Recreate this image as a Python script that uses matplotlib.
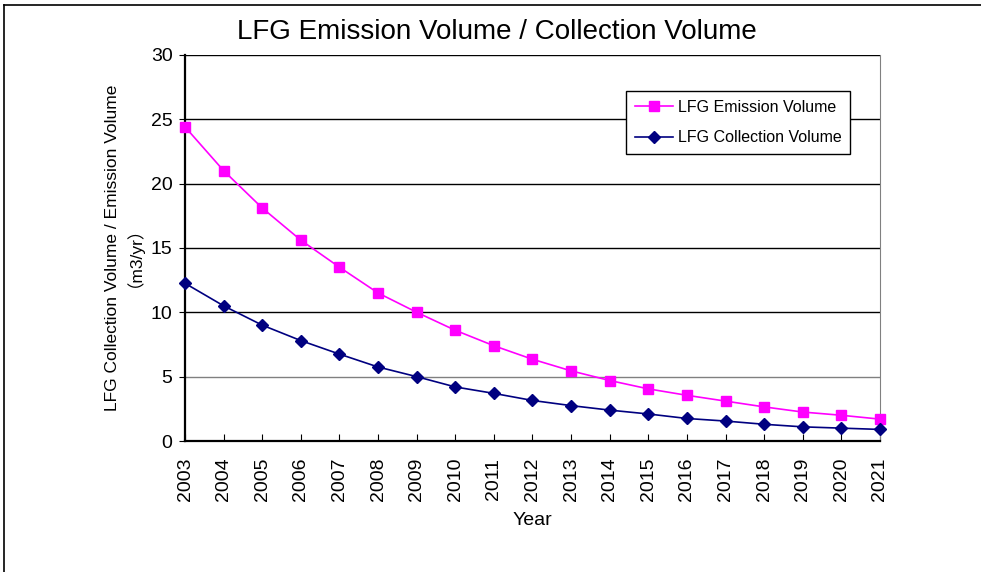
import numpy as np
import matplotlib.pyplot as plt
from matplotlib.lines import Line2D

plt.rcParams['font.family'] = ['Liberation Sans', 'Noto Sans CJK JP', 'DejaVu Sans']

years = [str(y) for y in range(2003, 2022)]
emission = [24.4, 21.0, 18.1, 15.6, 13.5, 11.5, 10.0, 8.6, 7.4, 6.35,
            5.45, 4.7, 4.05, 3.55, 3.1, 2.65, 2.25, 2.0, 1.7]
collection = [12.25, 10.5, 9.0, 7.8, 6.75, 5.75, 5.0, 4.2, 3.7, 3.15,
              2.75, 2.4, 2.1, 1.75, 1.55, 1.3, 1.1, 1.0, 0.9]

fig = plt.figure(figsize=(9.81, 5.72), dpi=100)
ax = fig.add_axes([0.1886, 0.229, 0.7084, 0.6752])

x = np.arange(len(years))
ax.plot(x, emission, color='#FF00FF', marker='s', markersize=6.5, lw=1.2,
        label='LFG Emission Volume', clip_on=False, zorder=3)
ax.plot(x, collection, color='#000080', marker='D', markersize=6, lw=1.2,
        label='LFG Collection Volume', clip_on=False, zorder=3)

ax.set_xlim(0, len(years) - 1)
ax.set_ylim(0, 30)
ax.set_yticks(range(0, 31, 5))
ax.set_xticks(x)
ax.set_xticklabels(years, rotation=90)
ax.tick_params(axis='x', direction='in', length=5, labelsize=14, pad=12)
ax.tick_params(axis='y', direction='out', length=4, labelsize=14, pad=5)

for yv in range(5, 31, 5):
    ax.axhline(yv, color='#808080' if yv == 5 else 'black', lw=1, zorder=1)

for s in ['left', 'bottom']:
    ax.spines[s].set_linewidth(1.6)
ax.spines['top'].set_visible(False)
ax.spines['right'].set_color('#808080')

ax.set_xlabel('Year', fontsize=14, labelpad=8)
ax.set_ylabel('LFG Collection Volume / Emission Volume\n\uff08m3/yr\uff09',
              fontsize=12.5, linespacing=0.75, labelpad=12)
fig.text(497 / 981, 1 - 32 / 572, 'LFG Emission Volume / Collection Volume',
         fontsize=20, ha='center', va='center')

leg = ax.legend(loc='upper left', bbox_to_anchor=(0.6345, 0.907), fontsize=11.5,
                fancybox=False, framealpha=1, edgecolor='black',
                borderpad=0.55, labelspacing=1.0, handlelength=2.4,
                handletextpad=0.3, borderaxespad=0)
leg.get_frame().set_linewidth(1.0)

# outer chart border (cropped on right/bottom)
fig.add_artist(Line2D([4 / 981, 1.0], [1 - 5 / 572, 1 - 5 / 572], color='black', lw=1.2))
fig.add_artist(Line2D([4 / 981, 4 / 981], [0.0, 1 - 5 / 572], color='black', lw=1.2))

fig.savefig('out.png', dpi=100)
